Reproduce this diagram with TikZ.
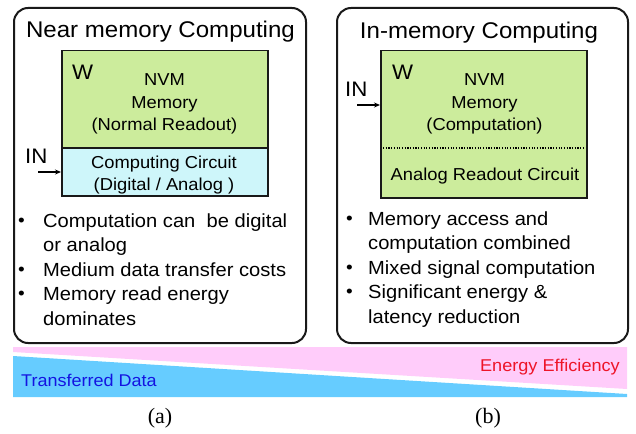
\documentclass[tikz,border=0pt]{standalone}
\usepackage{fontspec}
\setmainfont{Liberation Sans}[FakeStretch=1.06]
\newfontfamily\capfont{Liberation Serif}
\usetikzlibrary{arrows.meta}

\definecolor{memgreen}{RGB}{204,236,156}
\definecolor{circcyan}{RGB}{206,246,250}
\definecolor{bandpink}{RGB}{255,204,250}
\definecolor{bandblue}{RGB}{102,204,255}
\definecolor{txtblue}{RGB}{20,20,225}
\definecolor{txtred}{RGB}{238,20,40}
\definecolor{inkgray}{RGB}{25,25,25}

\tikzset{
  panel/.style={draw=inkgray, line width=2pt, rounded corners=14pt, anchor=north west,
    minimum width=#1, minimum height=335pt, inner sep=0pt},
  block/.style={draw=inkgray, line width=1.5pt, anchor=north west, inner sep=0pt},
  title/.style={font=\fontsize{22.7}{24}\selectfont, anchor=base, inner sep=0pt},
  label/.style={font=\fontsize{17.3}{19}\selectfont, anchor=base, inner sep=0pt},
  wlabel/.style={font=\fontsize{21}{22}\selectfont, anchor=base west, inner sep=0pt},
  inlabel/.style={font=\fontsize{21}{23}\selectfont, anchor=base west, inner sep=0pt},
  bullettext/.style={font=\fontsize{19}{20}\selectfont, anchor=base west, inner sep=0pt},
  bulletdot/.style={font=\fontsize{18}{19}\selectfont, anchor=base, inner sep=0pt},
  inarrow/.style={-{Stealth[length=6pt,width=5pt]}, line width=1.2pt, draw=black},
  caption/.style={font=\capfont\fontsize{22}{24}\selectfont, anchor=base, inner sep=0pt}
}

\begin{document}
\begin{tikzpicture}[x=1pt,y=-1pt]
\useasboundingbox (0,0) rectangle (636,433);

% ---------- bottom bands ----------
\fill[bandpink] (13,347) -- (627,347) -- (627,389) -- (13,352) -- cycle;
\fill[bandblue] (13,356) -- (627,394) -- (627,397) -- (13,397) -- cycle;
\node[font=\fontsize{17}{18}\selectfont, text=txtblue, anchor=base west, inner sep=0pt]
  (tdata) at (21,386) {Transferred Data};
\node[font=\fontsize{17.1}{18}\selectfont, text=txtred, anchor=base east, inner sep=0pt]
  (eeff) at (620,371) {Energy Efficiency};

% ---------- left panel: near memory computing ----------
\node[panel=292pt] (nearpanel) at (13,7) {};
\node[title] (neartitle) at (160.5,38) {Near memory Computing};

\node[block, fill=memgreen, minimum width=206pt, minimum height=97pt] (mem1) at (61,50) {};
\node[block, fill=circcyan, minimum width=206pt, minimum height=48pt] (circ1) at (61,147) {};
\node[wlabel] (w1) at (72,80) {W};
\node[label] (nvm1) at (164.5,86) {NVM};
\node[label] (memory1) at (164.5,108) {Memory};
\node[label] (readout1) at (164.5,130) {(Normal Readout)};
\node[label] (cc1) at (164,168) {Computing Circuit};
\node[label] (cc2) at (164,190.5) {(Digital / Analog )};

\node[inlabel] (in1) at (25,163) {IN};
\coordinate (in1tail) at (38,172);
\draw[inarrow] (in1tail) -- (in1tail -| circ1.west);

\node[bulletdot] (ldot1) at (21.5,226) {•};
\node[bullettext] (ll1) at (43,227) {Computation can\ \ be digital};
\node[bullettext] (ll2) at (43,251.5) {or analog};
\node[bulletdot] (ldot2) at (21.5,275) {•};
\node[bullettext] (ll3) at (43,276) {Medium data transfer costs};
\node[bulletdot] (ldot3) at (21.5,299.5) {•};
\node[bullettext] (ll4) at (43,300.5) {Memory read energy};
\node[bullettext] (ll5) at (43,325) {dominates};

% ---------- right panel: in-memory computing ----------
\node[panel=291pt] (inpanel) at (336,7) {};
\node[title] (intitle) at (479,39) {In-memory Computing};

\node[block, fill=memgreen, minimum width=206pt, minimum height=147pt] (mem2) at (380,50) {};
\draw[line width=1.5pt, dash pattern=on 1.2pt off 1.5pt]
  ([xshift=3pt,yshift=-98pt]mem2.north west) -- ([xshift=-3pt,yshift=-98pt]mem2.north east);
\node[wlabel] (w2) at (392,80) {W};
\node[label] (nvm2) at (484.5,86) {NVM};
\node[label] (memory2) at (484.5,108) {Memory};
\node[label] (comp2) at (484.5,130) {(Computation)};
\node[label] (adc2) at (485,180) {Analog Readout Circuit};

\node[inlabel] (in2) at (345,96) {IN};
\coordinate (in2tail) at (357,105);
\draw[inarrow] (in2tail) -- (in2tail -| mem2.west);

\node[bulletdot] (rdot1) at (349.5,224) {•};
\node[bullettext] (rl1) at (368,225) {Memory access and};
\node[bullettext] (rl2) at (368,249.5) {computation combined};
\node[bulletdot] (rdot2) at (349.5,273) {•};
\node[bullettext] (rl3) at (368,274) {Mixed signal computation};
\node[bulletdot] (rdot3) at (349.5,297.5) {•};
\node[bullettext] (rl4) at (368,298.5) {Significant energy \&};
\node[bullettext] (rl5) at (368,323) {latency reduction};

% ---------- captions ----------
\node[caption] (capa) at (160,423) {(a)};
\node[caption] (capb) at (488,423) {(b)};
\end{tikzpicture}
\end{document}
